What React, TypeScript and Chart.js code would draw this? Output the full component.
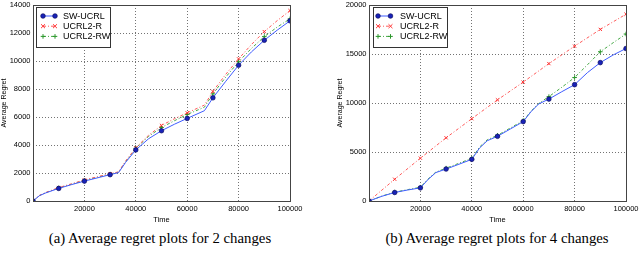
import React, { useEffect, useRef } from "react";
import { Chart, registerables } from "chart.js";

Chart.register(...registerables);

// ---------- (a) 2 changes ----------
const timeA = [0, 2500, 5000, 10000, 15000, 20000, 25000, 30000, 33300, 36000, 40000, 45000, 50000, 55000, 60000, 66700, 70000, 75000, 80000, 85000, 90000, 95000, 100000];
const swUcrlA = [0, 380, 580, 900, 1170, 1420, 1650, 1880, 2030, 2750, 3650, 4450, 5020, 5480, 5900, 6450, 7370, 8550, 9700, 10650, 11480, 12200, 12870];
const ucrl2RA = [0, 400, 610, 960, 1230, 1500, 1730, 1950, 2080, 2850, 3800, 4700, 5400, 5870, 6300, 6850, 7830, 9050, 10150, 11180, 12100, 12880, 13600];
const ucrl2RWA = [0, 390, 600, 930, 1200, 1470, 1700, 1920, 2060, 2800, 3760, 4620, 5250, 5730, 6180, 6700, 7650, 8850, 9950, 10900, 11740, 12420, 13010];

// ---------- (b) 4 changes ----------
const timeB = [0, 5000, 10000, 15000, 20000, 23000, 26000, 30000, 35000, 40000, 43000, 46000, 50000, 55000, 60000, 63000, 66000, 70000, 75000, 80000, 85000, 90000, 95000, 100000];
const swUcrlB = [0, 480, 870, 1120, 1340, 2200, 2900, 3260, 3750, 4250, 5400, 6150, 6600, 7350, 8100, 9100, 9900, 10400, 11150, 11870, 13100, 14120, 14900, 15560];
const ucrl2RWB = [0, 500, 900, 1160, 1400, 2250, 2950, 3350, 3850, 4350, 5500, 6250, 6700, 7450, 8200, 9150, 9950, 10650, 11600, 12600, 13900, 15230, 16150, 17040];
const timeBR = [0, 10000, 20000, 30000, 40000, 50000, 60000, 70000, 80000, 90000, 100000];
const ucrl2RB = [0, 2220, 4370, 6450, 8400, 10320, 12130, 14020, 15800, 17510, 19060];

const seriesNames = ["SW-UCRL", "UCRL2-R", "UCRL2-RW"];
const xMax = 100000;
const xStep = 20000;
const yMaxA = 14000;
const yStepA = 2000;
const yMaxB = 20000;
const yStepB = 5000;
const xTitle = "Time";
const yTitle = "Average Regret";
const captionA = "(a) Average regret plots for 2 changes";
const captionB = "(b) Average regret plots for 4 changes";

const BLUE = "#3f5cff";
const RED = "#ff5a5a";
const GREEN = "#45a845";
const FONT = "Liberation Sans";
const MR = 2.3;

const toXY = (xs: number[], ys: number[]) => xs.map((x, i) => ({ x, y: ys[i] }));
const markerRadius = (c: any) => {
  const x = c.raw && c.raw.x;
  return x % 10000 === 0 ? MR : 0;
};

function makeDatasets(sw: any[], r: any[], rw: any[]) {
  return [
    {
      label: seriesNames[0],
      data: sw,
      borderColor: BLUE,
      borderWidth: 1,
      pointStyle: "circle",
      pointRadius: markerRadius,
      pointBackgroundColor: "#1822b8",
      pointBorderColor: "#0c0c60",
      pointBorderWidth: 0.7,
      tension: 0,
    },
    {
      label: seriesNames[1],
      data: r,
      borderColor: RED,
      borderWidth: 1,
      borderDash: [3, 2, 1, 2],
      pointStyle: "crossRot",
      pointRadius: markerRadius,
      pointBorderColor: "#ff3030",
      pointBackgroundColor: "#ff3030",
      pointBorderWidth: 1,
      tension: 0,
    },
    {
      label: seriesNames[2],
      data: rw,
      borderColor: GREEN,
      borderWidth: 1,
      borderDash: [3, 2, 1, 2],
      pointStyle: "cross",
      pointRadius: markerRadius,
      pointBorderColor: "#2a962a",
      pointBackgroundColor: "#2a962a",
      pointBorderWidth: 1,
      tension: 0,
    },
  ];
}

function drawMarker(ctx: CanvasRenderingContext2D, style: string, x: number, y: number, ds: any) {
  const r = MR;
  ctx.save();
  ctx.setLineDash([]);
  ctx.lineWidth = 1;
  if (style === "circle") {
    ctx.fillStyle = ds.pointBackgroundColor;
    ctx.strokeStyle = ds.pointBorderColor;
    ctx.lineWidth = 0.7;
    ctx.beginPath();
    ctx.arc(x, y, r, 0, Math.PI * 2);
    ctx.fill();
    ctx.stroke();
  } else if (style === "crossRot") {
    ctx.strokeStyle = ds.pointBorderColor;
    const d = r * 0.85;
    ctx.beginPath();
    ctx.moveTo(x - d, y - d);
    ctx.lineTo(x + d, y + d);
    ctx.moveTo(x - d, y + d);
    ctx.lineTo(x + d, y - d);
    ctx.stroke();
  } else {
    ctx.strokeStyle = ds.pointBorderColor;
    ctx.beginPath();
    ctx.moveTo(x - r, y);
    ctx.lineTo(x + r, y);
    ctx.moveTo(x, y - r);
    ctx.lineTo(x, y + r);
    ctx.stroke();
  }
  ctx.restore();
}

const framePlugin = {
  id: "mplFrame",
  afterDraw(chart: any, _args: any, opts: any) {
    const { ctx, chartArea } = chart;
    ctx.save();
    ctx.strokeStyle = "#444";
    ctx.lineWidth = 1;
    ctx.setLineDash([]);
    ctx.strokeRect(
      Math.round(chartArea.left) + 0.5,
      Math.round(chartArea.top) + 0.5,
      Math.round(chartArea.right - chartArea.left),
      Math.round(chartArea.bottom - chartArea.top)
    );
    // legend
    const bx = Math.round(chartArea.left + opts.dx);
    const by = Math.round(chartArea.top + opts.dy);
    const bw = 74;
    const bh = 40;
    ctx.fillStyle = "#fff";
    ctx.fillRect(bx, by, bw, bh);
    ctx.strokeStyle = "#333";
    ctx.strokeRect(bx + 0.5, by + 0.5, bw, bh);
    chart.data.datasets.forEach((ds: any, i: number) => {
      const y = by + 9 + i * 10.2;
      const x0 = bx + opts.m0;
      const x1 = bx + opts.m1;
      ctx.save();
      ctx.setLineDash(ds.borderDash || []);
      ctx.strokeStyle = ds.borderColor;
      ctx.lineWidth = 1;
      ctx.beginPath();
      ctx.moveTo(x0, y);
      ctx.lineTo(x1, y);
      ctx.stroke();
      ctx.restore();
      drawMarker(ctx, ds.pointStyle, x0, y, ds);
      drawMarker(ctx, ds.pointStyle, x1, y, ds);
      ctx.fillStyle = "#000";
      ctx.font = `9px "${FONT}"`;
      ctx.textBaseline = "middle";
      ctx.textAlign = "left";
      ctx.fillText(ds.label, bx + opts.tx, y + 0.5);
    });
    ctx.restore();
  },
};

interface PlotProps {
  datasets: any[];
  yMax: number;
  yStep: number;
  padLeft: number;
  legend: { dx: number; dy: number; m0: number; m1: number; tx: number };
}

const CANVAS_W = 320;
const CANVAS_H = 224;
const AREA_BOTTOM = 201;
const AREA_TOP = 3;
const YAXIS_W = 33;
const AREA_W = 257;

function Plot({ datasets, yMax, yStep, padLeft, legend }: PlotProps) {
  const ref = useRef<HTMLCanvasElement | null>(null);
  useEffect(() => {
    if (!ref.current) return;
    const gridColor = "rgba(0,0,0,0.55)";
    const chart = new Chart(ref.current, {
      type: "line",
      data: { datasets },
      plugins: [framePlugin],
      options: {
        animation: false,
        responsive: false,
        devicePixelRatio: 1,
        layout: {
          padding: {
            left: padLeft,
            top: AREA_TOP,
            right: CANVAS_W - padLeft - YAXIS_W - AREA_W,
            bottom: 0,
          },
        },
        plugins: {
          legend: { display: false },
          tooltip: { enabled: false },
          mplFrame: legend,
        },
        scales: {
          x: {
            type: "linear",
            min: 0,
            max: xMax,
            border: { display: false, dash: [1, 2] },
            grid: { color: gridColor, drawTicks: false, lineWidth: 1 },
            ticks: {
              stepSize: xStep,
              maxRotation: 0,
              autoSkip: false,
              padding: 3,
              color: "#000",
              font: { family: FONT, size: 7.5 },
              callback: (v: any) => (v === 0 ? "" : String(v)),
            },
            title: {
              display: true,
              text: xTitle,
              color: "#000",
              font: { family: FONT, size: 7.5 },
              padding: { top: 0, bottom: 0 },
            },
            afterFit: (s: any) => {
              s.height = CANVAS_H - AREA_BOTTOM;
              s.paddingLeft = 0;
              s.paddingRight = 0;
            },
          },
          y: {
            min: 0,
            max: yMax,
            border: { display: false, dash: [1, 2] },
            grid: { color: gridColor, drawTicks: false, lineWidth: 1 },
            ticks: {
              stepSize: yStep,
              padding: 2.5,
              color: "#000",
              font: { family: FONT, size: 7.5 },
              callback: (v: any) => String(v),
            },
            title: {
              display: true,
              text: yTitle,
              color: "#000",
              font: { family: FONT, size: 7 },
              padding: { top: 0, bottom: 0 },
            },
            afterFit: (s: any) => {
              s.width = YAXIS_W;
              s.paddingTop = 0;
              s.paddingBottom = 0;
            },
          },
        },
      } as any,
    } as any);
    return () => chart.destroy();
  }, []);
  return <canvas ref={ref} width={CANVAS_W} height={CANVAS_H} style={{ display: "block", width: CANVAS_W, height: CANVAS_H }} />;
}

export default function App() {
  const dsA = makeDatasets(toXY(timeA, swUcrlA), toXY(timeA, ucrl2RA), toXY(timeA, ucrl2RWA));
  const dsB = makeDatasets(toXY(timeB, swUcrlB), toXY(timeBR, ucrl2RB), toXY(timeB, ucrl2RWB));
  const captionStyle: React.CSSProperties = {
    position: "absolute",
    top: 230,
    width: 320,
    textAlign: "center",
    fontFamily: '"Liberation Serif", serif',
    fontSize: 14.8,
    color: "#000",
    whiteSpace: "nowrap",
  };
  return (
    <div style={{ position: "fixed", left: 0, top: 0, width: 640, height: 264, background: "#fff", overflow: "hidden" }}>
      <div style={{ position: "absolute", left: 0, top: 0 }}>
        <Plot datasets={dsA} yMax={yMaxA} yStep={yStepA} padLeft={0} legend={{ dx: 3, dy: 2, m0: 7, m1: 19, tx: 27 }} />
      </div>
      <div style={{ position: "absolute", left: 320, top: 0 }}>
        <Plot datasets={dsB} yMax={yMaxB} yStep={yStepB} padLeft={16} legend={{ dx: 4, dy: 2, m0: 5, m1: 17.5, tx: 27 }} />
      </div>
      <div style={{ ...captionStyle, left: 0 }}>{captionA}</div>
      <div style={{ ...captionStyle, left: 337 }}>{captionB}</div>
    </div>
  );
}
